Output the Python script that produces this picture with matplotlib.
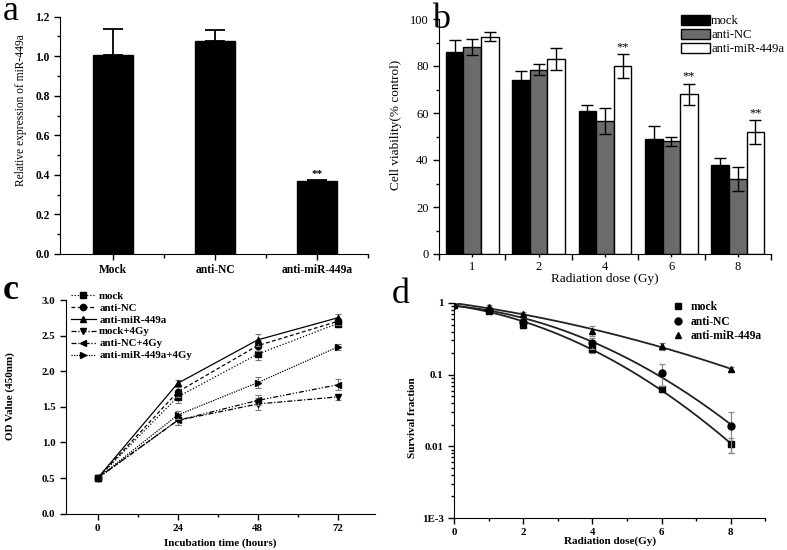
import numpy as np
import matplotlib
matplotlib.use('Agg')
import matplotlib.pyplot as plt
from matplotlib.ticker import MultipleLocator, FixedLocator, LogLocator, NullFormatter, FixedFormatter
from matplotlib.patches import Patch

plt.rcParams['font.family'] = ['Liberation Serif', 'DejaVu Serif']

# ---------------- Data ----------------
# Panel a
a_groups = ['Mock', 'anti-NC', 'anti-miR-449a']
a_values = [1.005, 1.075, 0.368]
a_errors = [0.135, 0.06, 0.005]
a_sig = ['', '', '**']

# Panel b
b_doses = ['1', '2', '4', '6', '8']
b_series = ['mock', 'anti-NC', 'anti-miR-449a']
b_mock = [86, 74, 61, 49, 38]
b_mock_err = [5, 4, 2.5, 5.5, 3]
b_nc = [88, 78.5, 56.5, 48, 32]
b_nc_err = [3.5, 2.5, 5.5, 2, 5]
b_mir = [92.5, 83, 80, 68, 52]
b_mir_err = [2, 4.5, 5, 4.5, 5]
b_sig = ['', '', '**', '**', '**']

# Panel c
c_time = [0, 24, 48, 72]
c_labels = ['mock', 'anti-NC', 'anti-miR-449a', 'mock+4Gy', 'anti-NC+4Gy', 'anti-miR-449a+4Gy']
c_mock = [0.5, 1.64, 2.24, 2.67]
c_mock_err = [0.01, 0.08, 0.08, 0.05]
c_nc = [0.5, 1.71, 2.36, 2.70]
c_nc_err = [0.01, 0.07, 0.07, 0.05]
c_mir = [0.5, 1.83, 2.44, 2.75]
c_mir_err = [0.01, 0.05, 0.08, 0.05]
c_mock4 = [0.5, 1.31, 1.54, 1.64]
c_mock4_err = [0.01, 0.07, 0.08, 0.04]
c_nc4 = [0.5, 1.31, 1.59, 1.81]
c_nc4_err = [0.01, 0.06, 0.07, 0.08]
c_mir4 = [0.5, 1.385, 1.84, 2.34]
c_mir4_err = [0.01, 0.05, 0.08, 0.04]

# Panel d
d_dose = [0, 1, 2, 4, 6, 8]
d_labels = ['mock', 'anti-NC', 'anti-miR-449a']
d_mock = [0.95, 0.77, 0.50, 0.23, 0.063, 0.0107]
d_mock_err = [0.02, 0.04, 0.05, 0.03, 0.005, 0.0025]
d_nc = [0.95, 0.81, 0.55, 0.28, 0.105, 0.019]
d_nc_err = [0.02, 0.04, 0.04, 0.05, 0.035, 0.011]
d_mir = [0.97, 0.88, 0.70, 0.41, 0.25, 0.12]
d_mir_err = [0.02, 0.05, 0.04, 0.06, 0.03, 0.01]

W, H = 787, 550
fig = plt.figure(figsize=(W / 100, H / 100), dpi=100)


def ax_px(l, t, r, b):
    return fig.add_axes([l / W, 1 - b / H, (r - l) / W, (b - t) / H])


def style(ax):
    ax.spines['top'].set_visible(False)
    ax.spines['right'].set_visible(False)
    ax.tick_params(which='both', direction='out', width=1)
    ax.tick_params(which='major', length=4)
    ax.tick_params(which='minor', length=2)


# ---------------- Panel a ----------------
ax = ax_px(60, 16.7, 368, 254)
style(ax)
xa = np.arange(len(a_groups))
ax.bar(xa, a_values, width=0.4, color='black', edgecolor='black')
ax.errorbar(xa, a_values, yerr=[np.zeros(len(a_values)), a_errors], fmt='none',
            ecolor='black', elinewidth=1.3, capsize=7, capthick=1.3)
for xi, v, e, s in zip(xa, a_values, a_errors, a_sig):
    if s:
        ax.text(xi, v + e + 0.005, s, ha='center', va='bottom', fontsize=8, fontweight='bold')
ax.set_xlim(-0.52, 2.5)
ax.set_ylim(0, 1.2)
ax.set_xticks(xa)
ax.set_xticklabels(a_groups)
ax.xaxis.set_minor_locator(FixedLocator([0.5, 1.5, 2.5]))
ax.tick_params(axis='x', which='minor', length=3)
ax.yaxis.set_major_locator(MultipleLocator(0.2))
ax.yaxis.set_minor_locator(MultipleLocator(0.1))
ax.yaxis.set_major_formatter(plt.FuncFormatter(lambda v, p: f'{v:.1f}'))
for lab in ax.get_xticklabels() + ax.get_yticklabels():
    lab.set_fontsize(8.3)
    lab.set_fontweight('bold')
ax.set_ylabel('Relative expression of miR-449a', fontsize=8.3)
ax.yaxis.set_label_coords(-0.108, 0.607)

# ---------------- Panel b ----------------
ax = ax_px(439, 19, 771, 254)
style(ax)
xb = np.arange(len(b_doses))
bw = 0.266
cols = ['black', '#6b6b6b', 'white']
vals = [b_mock, b_nc, b_mir]
errs = [b_mock_err, b_nc_err, b_mir_err]
for i, (v, e, c) in enumerate(zip(vals, errs, cols)):
    pos = xb + (i - 1) * bw
    ax.bar(pos, v, width=bw, color=c, edgecolor='black', linewidth=1, label=b_series[i])
    ax.errorbar(pos, v, yerr=e, fmt='none', ecolor='black', elinewidth=1, capsize=4, capthick=1)
for xi, v, e, s in zip(xb, b_mir, b_mir_err, b_sig):
    if s:
        ax.text(xi + bw, v + e + 0.5, s, ha='center', va='bottom', fontsize=9)
ax.set_xlim(-0.5, 4.5)
ax.set_ylim(0, 100)
ax.xaxis.set_major_locator(FixedLocator(np.arange(-0.5, 5.0, 1.0)))
ax.xaxis.set_major_formatter(NullFormatter())
ax.xaxis.set_minor_locator(FixedLocator(xb))
ax.xaxis.set_minor_formatter(FixedFormatter(b_doses))
ax.tick_params(axis='x', which='minor', length=2, labelsize=9)
ax.yaxis.set_major_locator(MultipleLocator(20))
ax.yaxis.set_minor_locator(MultipleLocator(10))
ax.tick_params(axis='y', labelsize=9)
ax.set_ylabel('Cell viability(% control)', fontsize=9.5)
ax.yaxis.set_label_coords(-0.111, 0.549)
ax.set_xlabel('Radiation dose (Gy)', fontsize=9.5)
ax.xaxis.set_label_coords(0.5, -0.08)
handles = [Patch(facecolor=c, edgecolor='black', linewidth=1) for c in cols]
fig.legend(handles, b_series, loc='upper left', bbox_to_anchor=(681 / W, 1 - 15 / H),
           frameon=False, fontsize=9, handlelength=2.3, handleheight=0.85,
           labelspacing=0.12, handletextpad=0.1, borderpad=0, borderaxespad=0)

# ---------------- Panel c ----------------
ax = ax_px(65.7, 300, 375, 513.7)
style(ax)
c_sets = [(c_mock, c_mock_err, 's', (0, (1, 1.5))),
          (c_nc, c_nc_err, 'o', (0, (3, 2))),
          (c_mir, c_mir_err, '^', '-'),
          (c_mock4, c_mock4_err, 'v', (0, (4, 1.5, 1, 1.5))),
          (c_nc4, c_nc4_err, '<', (0, (4, 1.5, 1, 1.5, 1, 1.5))),
          (c_mir4, c_mir4_err, '>', (0, (1, 1)))]
for (y, e, m, ls), lab in zip(c_sets, c_labels):
    ax.errorbar(c_time, y, yerr=e, fmt='none', ecolor='#777777', elinewidth=0.8,
                capsize=2, capthick=0.8)
    ax.plot(c_time, y, color='black', linestyle=ls, linewidth=0.9, marker=m,
            markersize=4.5, label=lab)
ax.set_xlim(-9.6, 83.2)
ax.set_ylim(0, 3.0)
ax.xaxis.set_major_locator(FixedLocator(c_time))
ax.xaxis.set_minor_locator(FixedLocator([12, 36, 60]))
ax.yaxis.set_major_locator(MultipleLocator(0.5))
ax.yaxis.set_major_formatter(plt.FuncFormatter(lambda v, p: f'{v:.1f}'))
for lab in ax.get_xticklabels() + ax.get_yticklabels():
    lab.set_fontsize(7.8)
    lab.set_fontweight('bold')
ax.set_ylabel('OD Value (450nm)', fontsize=8, fontweight='bold')
ax.yaxis.set_label_coords(-0.164, 0.551)
ax.set_xlabel('Incubation time (hours)', fontsize=8, fontweight='bold')
ax.xaxis.set_label_coords(0.5, -0.115)
leg = ax.legend(loc='upper left', bbox_to_anchor=(71 / W, 1 - 291 / H),
                bbox_transform=fig.transFigure, frameon=False, fontsize=7.8,
                handlelength=2.3, labelspacing=0.22, handletextpad=0.3,
                borderpad=0, borderaxespad=0)
for t in leg.get_texts():
    t.set_fontweight('bold')

# ---------------- Panel d ----------------
ax = ax_px(454, 303, 765.4, 518)
style(ax)
d_sets = [(d_mock, d_mock_err, 's'), (d_nc, d_nc_err, 'o'), (d_mir, d_mir_err, '^')]
xs = np.linspace(0, 8, 200)
for (y, e, m), lab in zip(d_sets, d_labels):
    coef = np.polyfit(d_dose, np.log(y), 2)
    ax.plot(xs, np.exp(np.polyval(coef, xs)), color='#222222', linewidth=1.3)
    ax.errorbar(d_dose, y, yerr=e, fmt='none', ecolor='#888888', elinewidth=0.9,
                capsize=2, capthick=0.9)
    ax.plot(d_dose, y, linestyle='none', marker=m, color='black', markersize=5, label=lab)
ax.set_yscale('log')
ax.set_xlim(0, 9)
ax.set_ylim(1e-3, 1)
ax.xaxis.set_major_locator(FixedLocator([0, 2, 4, 6, 8]))
ax.xaxis.set_minor_locator(FixedLocator([1, 3, 5, 7, 9]))
ax.yaxis.set_major_locator(FixedLocator([1e-3, 1e-2, 1e-1, 1]))
ax.yaxis.set_major_formatter(FixedFormatter(['1E-3', '0.01', '0.1', '1']))
ax.yaxis.set_minor_locator(LogLocator(base=10, subs=np.arange(2, 10)))
ax.yaxis.set_minor_formatter(NullFormatter())
for lab in ax.get_xticklabels() + ax.get_yticklabels():
    lab.set_fontsize(7.8)
    lab.set_fontweight('bold')
ax.set_ylabel('Survival fraction', fontsize=8, fontweight='bold')
ax.yaxis.set_label_coords(-0.119, 0.465)
ax.set_xlabel('Radiation dose(Gy)', fontsize=8, fontweight='bold')
ax.xaxis.set_label_coords(0.5, -0.085)
leg = ax.legend(loc='upper left', bbox_to_anchor=(672 / W, 1 - 301 / H),
                bbox_transform=fig.transFigure, frameon=False, fontsize=8.3,
                handlelength=1.0, labelspacing=0.22, handletextpad=0.6,
                borderpad=0, borderaxespad=0)
for t in leg.get_texts():
    t.set_fontweight('bold')

# ---------------- Panel letters ----------------
fig.text(3 / W, 1 - 20 / H, 'a', fontsize=26, va='baseline', ha='left')
fig.text(432 / W, 1 - 28 / H, 'b', fontsize=26, va='baseline', ha='left')
fig.text(3 / W, 1 - 299 / H, 'c', fontsize=26, va='baseline', ha='left', fontweight='bold')
fig.text(392 / W, 1 - 303 / H, 'd', fontsize=26, va='baseline', ha='left')

fig.savefig('out.png', dpi=100)
